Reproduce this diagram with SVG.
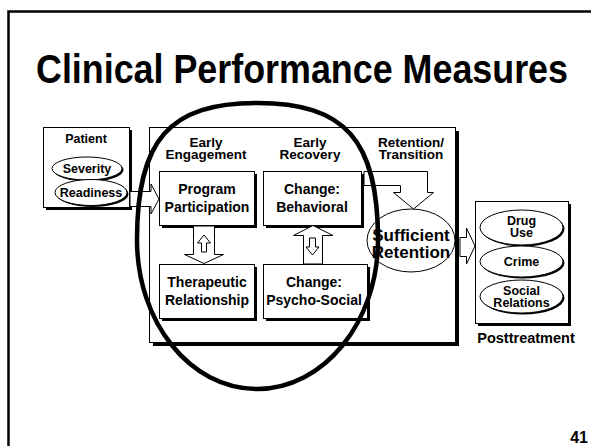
<svg xmlns="http://www.w3.org/2000/svg" width="591" height="446" viewBox="0 0 591 446">
<style>
text{font-family:"Liberation Sans",Arial,sans-serif;font-weight:bold;fill:#000;text-anchor:middle}
.box{fill:#fff;stroke:#000;stroke-width:1}
.sh{fill:#000}
.arr{fill:#fff;stroke:#000;stroke-width:1;stroke-linejoin:miter}
.lbl{font-size:14px}
.stg{font-size:13.5px}
.sm{font-size:12.5px}
</style>
<rect width="591" height="446" fill="#fff"/>
<path d="M8.5,446 V11.5 H591" fill="none" stroke="#000" stroke-width="2.5"/>
<text x="302" y="83" font-size="40" textLength="532" lengthAdjust="spacingAndGlyphs">Clinical Performance Measures</text>

<g id="program-box">
<rect class="sh" x="153" y="131" width="306" height="215"/>
<rect class="box" x="149.5" y="127.5" width="306" height="215"/>
</g>

<g id="patient">
<rect class="sh" x="46" y="130" width="86" height="80"/>
<rect class="box" x="43.5" y="127.5" width="86" height="80"/>
<text class="sm" x="86" y="143">Patient</text>
<ellipse class="sh" cx="88.5" cy="170" rx="35" ry="11.5"/>
<ellipse class="box" cx="87" cy="168.5" rx="35" ry="11.5"/>
<text class="sm" x="87" y="173">Severity</text>
<ellipse class="sh" cx="92.5" cy="194" rx="36" ry="13"/>
<ellipse class="box" cx="91" cy="192.5" rx="36" ry="13"/>
<text class="sm" x="91" y="197">Readiness</text>
</g>

<g id="connectors">
<polygon class="arr" points="130,191.5 151,191.5 151,184 159,199 151,214 151,206.5 130,206.5"/>
<polygon class="arr" points="364,171.5 427.5,171.5 427.5,192.5 433.5,192.5 413.5,209 393.5,192.5 400.5,192.5 400.5,185.5 364,185.5"/>
<polygon class="arr" points="460,237.5 466.5,237.5 466.5,228 475,246 466.5,264 466.5,256.5 460,256.5"/>
</g>

<g id="program-participation">
<rect class="sh" x="162" y="174" width="95" height="54"/>
<rect class="box" x="159.5" y="171.5" width="95" height="54"/>
<text class="lbl" x="207" y="194">Program</text>
<text class="lbl" x="207" y="212">Participation</text>
</g>
<g id="change-behavioral">
<rect class="sh" x="266" y="174" width="98" height="54"/>
<rect class="box" x="263.5" y="171.5" width="98" height="54"/>
<text class="lbl" x="312" y="194">Change:</text>
<text class="lbl" x="312" y="212">Behavioral</text>
</g>
<g id="therapeutic-relationship">
<rect class="sh" x="162" y="267" width="95" height="54"/>
<rect class="box" x="159.5" y="264.5" width="95" height="54"/>
<text class="lbl" x="207" y="287">Therapeutic</text>
<text class="lbl" x="207" y="305">Relationship</text>
</g>
<g id="change-psychosocial">
<rect class="sh" x="266" y="267" width="104" height="54"/>
<rect class="box" x="263.5" y="264.5" width="104" height="54"/>
<text class="lbl" x="314" y="287">Change:</text>
<text class="lbl" x="314" y="305">Psycho-Social</text>
</g>

<g id="double-arrows">
<polygon class="arr" points="193.5,226 214.5,226 214.5,254.5 223.5,254.5 204,263.5 184.5,254.5 193.5,254.5"/>
<polygon class="arr" points="201.5,252 201.5,243 197.5,243 204,235 210.5,243 206.5,243 206.5,252"/>
<polygon class="arr" points="303.5,264 303.5,235.5 293.5,235.5 313,225.5 333,235.5 322.5,235.5 322.5,264"/>
<polygon class="arr" points="309.5,238 315.5,238 315.5,247 319,247 312.5,255 306,247 309.5,247"/>
</g>

<g id="stage-labels">
<text class="stg" x="206" y="147">Early</text>
<text class="stg" x="206" y="159">Engagement</text>
<text class="stg" x="310" y="147">Early</text>
<text class="stg" x="310" y="159">Recovery</text>
<text class="stg" x="411" y="147">Retention/</text>
<text class="stg" x="411" y="159">Transition</text>
</g>

<g id="sufficient-retention">
<ellipse class="box" cx="411" cy="240.5" rx="44" ry="31.5"/>
<text x="411" y="241" font-size="17">Sufficient</text>
<text x="411" y="258" font-size="17">Retention</text>
</g>

<g id="posttreatment">
<rect class="sh" x="478" y="204" width="93" height="122"/>
<rect class="box" x="475.5" y="201.5" width="93" height="122"/>
<ellipse class="sh" cx="523" cy="229" rx="41.5" ry="17.5"/>
<ellipse class="box" cx="521.5" cy="227.5" rx="41.5" ry="17.5"/>
<text class="sm" x="521.5" y="225">Drug</text>
<text class="sm" x="521.5" y="237">Use</text>
<ellipse class="sh" cx="523" cy="263" rx="41.5" ry="15.5"/>
<ellipse class="box" cx="521.5" cy="261.5" rx="41.5" ry="15.5"/>
<text class="sm" x="521.5" y="266">Crime</text>
<ellipse class="sh" cx="523" cy="298" rx="41.5" ry="16.5"/>
<ellipse class="box" cx="521.5" cy="296.5" rx="41.5" ry="16.5"/>
<text class="sm" x="521.5" y="295">Social</text>
<text class="sm" x="521.5" y="307">Relations</text>
<text x="526" y="343" font-size="14.5">Posttreatment</text>
</g>

<path id="focus-circle" d="M257,103 C345,103 378,140 378,240 C378,322 324,389 257,389 C190,389 137,322 137,240 C137,140 169,103 257,103 Z" fill="none" stroke="#000" stroke-width="4.5"/>

<text x="588" y="443" font-size="16" style="text-anchor:end">41</text>
</svg>
